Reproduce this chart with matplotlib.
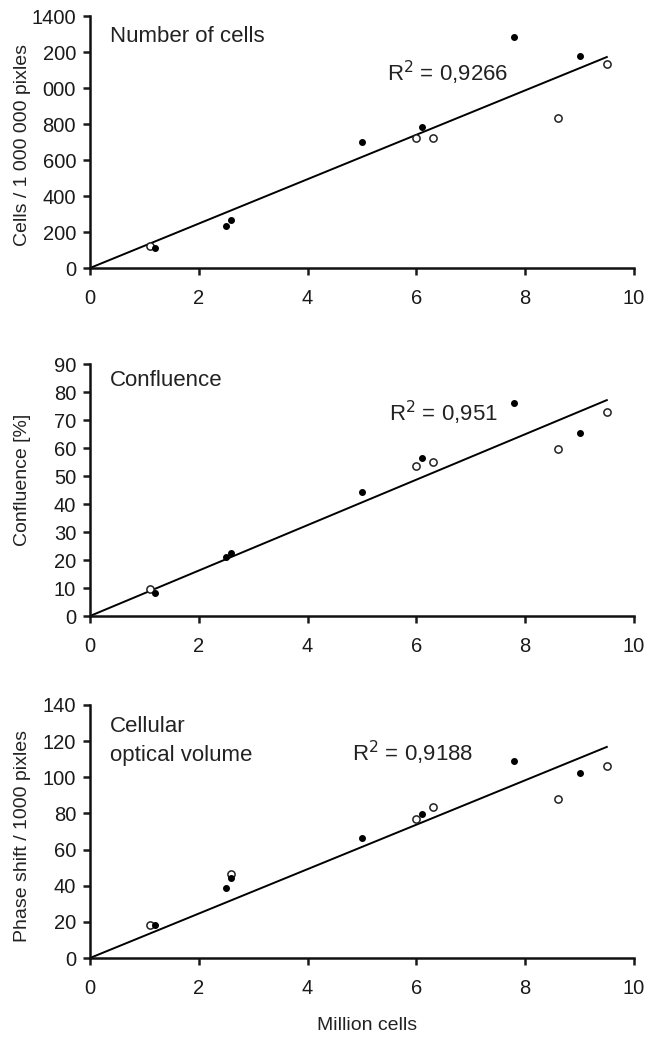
import matplotlib
matplotlib.use("Agg")
import matplotlib.pyplot as plt

plt.rcParams['font.family'] = ['Liberation Sans', 'DejaVu Sans']

# ---- data ----
filled_x = [1.2, 2.5, 2.6, 5.0, 6.1, 7.8, 9.0]
open_x = [1.1, 6.0, 6.3, 8.6, 9.5]

cells_filled = [112, 235, 268, 702, 785, 1285, 1180]
cells_open = [120, 725, 725, 835, 1135]
cells_fit_x = [0, 9.5]
cells_fit_y = [0, 1172]

conf_filled = [8.3, 21.2, 22.4, 44.2, 56.3, 75.9, 65.3]
conf_open = [9.6, 53.5, 54.9, 59.5, 72.7]
conf_fit_x = [0, 9.5]
conf_fit_y = [0, 77.1]

vol_filled_x = [1.2, 2.5, 2.6, 5.0, 6.1, 7.8, 9.0]
vol_filled = [18.5, 38.5, 44.0, 66.5, 79.5, 109.0, 102.5]
vol_open_x = [1.1, 2.6, 6.0, 6.3, 8.6, 9.5]
vol_open = [18.5, 46.5, 77.0, 83.5, 88.0, 106.5]
vol_fit_x = [0, 9.5]
vol_fit_y = [0, 116.8]

x_ticks = [0, 2, 4, 6, 8, 10]
cells_yticks = [0, 200, 400, 600, 800, 1000, 1200, 1400]
cells_yticklabels = ['0', '200', '400', '600', '800', '000', '200', '1400']
conf_yticks = [0, 10, 20, 30, 40, 50, 60, 70, 80, 90]
vol_yticks = [0, 20, 40, 60, 80, 100, 120, 140]

panels = [
    dict(fx=filled_x, fy=cells_filled, ox=open_x, oy=cells_open,
         lx=cells_fit_x, ly=cells_fit_y, yt=cells_yticks, ytl=cells_yticklabels,
         ymax=1400, ylabel='Cells / 1 000 000 pixles', ylab_y=0.488,
         title='Number of cells', ty=0.917, r2='R$^2$ = 0,9266', rx=0.546, ry=0.774,
         rect=[90/649, 1-268/1040, 544/649, 252/1040]),
    dict(fx=filled_x, fy=conf_filled, ox=open_x, oy=conf_open,
         lx=conf_fit_x, ly=conf_fit_y, yt=conf_yticks, ytl=[str(v) for v in conf_yticks],
         ymax=90, ylabel='Confluence [%]', ylab_y=0.54,
         title='Confluence', ty=0.935, r2='R$^2$ = 0,951', rx=0.55, ry=0.806,
         rect=[90/649, 1-616/1040, 544/649, 252/1040]),
    dict(fx=vol_filled_x, fy=vol_filled, ox=vol_open_x, oy=vol_open,
         lx=vol_fit_x, ly=vol_fit_y, yt=vol_yticks, ytl=[str(v) for v in vol_yticks],
         ymax=140, ylabel='Phase shift / 1000 pixles', ylab_y=0.482,
         title='Cellular\noptical volume', ty=0.856, r2='R$^2$ = 0,9188', rx=0.482, ry=0.81,
         rect=[90/649, 1-958/1040, 544/649, 253/1040]),
]

fig = plt.figure(figsize=(6.49, 10.40), dpi=100)

for i, p in enumerate(panels):
    ax = fig.add_axes(p['rect'])
    ax.plot(p['lx'], p['ly'], color='black', lw=1.4, zorder=2)
    ax.plot(p['ox'], p['oy'], linestyle='none', marker='o', markersize=5.2,
            markerfacecolor='white', markeredgecolor='#222222', markeredgewidth=1.1, zorder=3)
    ax.plot(p['fx'], p['fy'], linestyle='none', marker='o', markersize=4,
            color='black', zorder=4)
    ax.set_xlim(0, 10)
    ax.set_ylim(0, p['ymax'])
    ax.set_xticks(x_ticks)
    ax.set_xticklabels([str(v) for v in x_ticks])
    ax.set_yticks(p['yt'])
    ax.set_yticklabels(p['ytl'])
    for s in ['top', 'right']:
        ax.spines[s].set_visible(False)
    for s in ['left', 'bottom']:
        ax.spines[s].set_linewidth(1.8)
        ax.spines[s].set_color('#111111')
    ax.tick_params(axis='both', direction='out', length=5, width=1.8,
                   labelsize=14.5, colors='#1a1a1a')
    ax.tick_params(axis='x', pad=10)
    ax.tick_params(axis='y', pad=5)
    ax.set_ylabel(p['ylabel'], fontsize=14, color='#222222')
    ax.yaxis.set_label_coords(-0.108, p['ylab_y'])
    ax.text(0.037, p['ty'], p['title'], transform=ax.transAxes, fontsize=16,
            va='center', ha='left', color='#222222', linespacing=1.5)
    ax.text(p['rx'], p['ry'], p['r2'], transform=ax.transAxes, fontsize=16,
            va='center', ha='left', color='#222222')
    ax.patch.set_alpha(0)
    if i == 2:
        ax.set_xlabel('Million cells', fontsize=14, color='#222222')
        ax.xaxis.set_label_coords(0.51, -0.232)

fig.savefig('out.png', dpi=100, facecolor='white')
